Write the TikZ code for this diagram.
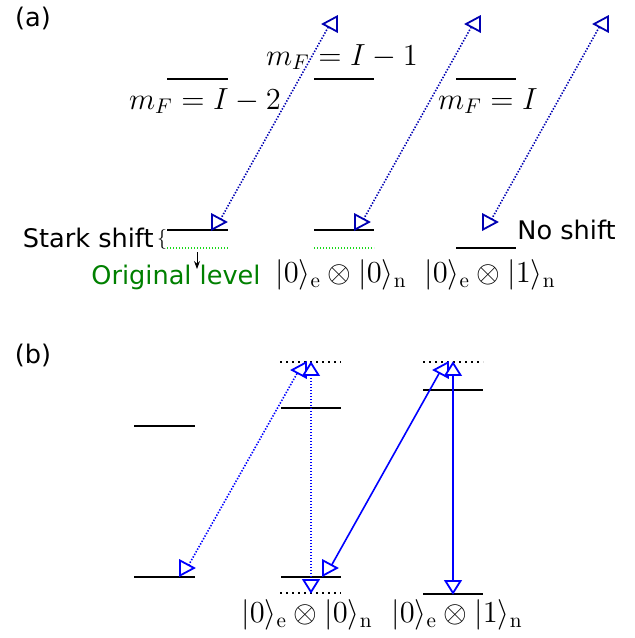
\documentclass[tikz,border=0pt]{standalone}
\usepackage{graphicx}
\usepackage{fontspec}
\setsansfont{DejaVu Sans}
\usetikzlibrary{arrows.meta}
\definecolor{ablue}{rgb}{0,0,0.7}
\definecolor{bblue}{rgb}{0,0,1}
\definecolor{lvgreen}{rgb}{0.1,0.85,0.1}
\definecolor{txgreen}{rgb}{0,0.5,0}
\newcommand{\mtx}[1]{\scalebox{1.06}{$#1$}}
\begin{document}
\begin{tikzpicture}[x=0.5pt,y=-0.5pt,
 level/.style={line width=1.1pt},
 dlevel/.style={line width=1pt, dash pattern=on 1pt off 2pt},
 glevel/.style={line width=0.9pt, lvgreen, dash pattern=on 0.7pt off 0.8pt},
 dtr/.style={line width=0.8pt, dash pattern=on 0.7pt off 0.8pt},
 str/.style={line width=0.8pt},
 head/.style={line width=0.9pt, fill=white},
 pics/hr/.style={code={\draw[head] (7,0) -- (-7,-7.5) -- (-7,7.5) -- cycle;}},
 pics/hl/.style={code={\draw[head] (-7,0) -- (7,-7.5) -- (7,7.5) -- cycle;}},
 pics/hu/.style={code={\draw[head] (0,-6) -- (-7.5,6) -- (7.5,6) -- cycle;}},
 pics/hd/.style={code={\draw[head] (0,6) -- (-7.5,-6) -- (7.5,-6) -- cycle;}},
 lab/.style={font=\sffamily\fontsize{12.8}{15}\selectfont, inner sep=0},
 mlab/.style={font=\fontsize{14.4}{17}\selectfont, inner sep=0},
]
\useasboundingbox (0,0) rectangle (635,638);

% ---------------- panel (a)
\node[lab] (la) at (33,18) {(a)};
% levels
\draw[level] (167,79) -- (228,79);
\draw[level] (314,79) -- (374,79);
\draw[level] (456,79) -- (516,79);
\draw[level] (167,230) -- (228,230);
\draw[level] (314,230) -- (374,230);
\draw[level] (456,248) -- (516,248);
\draw[glevel] (167,248) -- (228,248);
\draw[glevel] (314,248) -- (374,248);
% labels
\node[mlab] (m2) at (205,101) {\mtx{m_F=I-2}};
\node[mlab] (m1) at (342,57) {\mtx{m_F=I-1}};
\node[mlab] (m0) at (488,101) {\mtx{m_F=I}};
\node[lab, anchor=east] (stark) at (154,238) {Stark shift};
\node[inner sep=0, font=\fontsize{10}{12}\selectfont] (brace) at (162,239) {$\{$};
\node[lab, txgreen] (orig) at (176,277) {Original level};
\coordinate (oa1) at (197,252);
\coordinate (oa2) at (197,269);
\draw[-{Stealth[length=4pt,width=3pt]}, line width=0.5pt] (oa1) -- (oa2);
\node[lab, anchor=west] (noshift) at (517,230) {No shift};
\node[mlab] (ka1) at (341,275) {\mtx{|0\rangle_{\mathrm{e}}\otimes|0\rangle_{\mathrm{n}}}};
\node[mlab] (ka2) at (490,275) {\mtx{|0\rangle_{\mathrm{e}}\otimes|1\rangle_{\mathrm{n}}}};
% transitions
\coordinate (a1b) at (219,222); \coordinate (a1t) at (330,24);
\coordinate (a2b) at (362,222); \coordinate (a2t) at (473,24);
\coordinate (a3b) at (490,222); \coordinate (a3t) at (601,24);
\begin{scope}[ablue]
\draw[dtr] (a1b) -- (a1t);
\draw[dtr] (a2b) -- (a2t);
\draw[dtr] (a3b) -- (a3t);
\pic at (a1b) {hr}; \pic at (a1t) {hl};
\pic at (a2b) {hr}; \pic at (a2t) {hl};
\pic at (a3b) {hr}; \pic at (a3t) {hl};
\end{scope}

% ---------------- panel (b)
\node[lab] (lb) at (33,355) {(b)};
\draw[level] (134,426) -- (195,426);
\draw[level] (134,577) -- (195,577);
\draw[dlevel] (280,362) -- (341,362);
\draw[level] (281,408) -- (341,408);
\draw[level] (281,577) -- (341,577);
\draw[dlevel] (280,593) -- (341,593);
\draw[dlevel] (423,362) -- (483,362);
\draw[level] (423,390) -- (483,390);
\draw[level] (423,594) -- (483,594);
\node[mlab] (kb1) at (307,615) {\mtx{|0\rangle_{\mathrm{e}}\otimes|0\rangle_{\mathrm{n}}}};
\node[mlab] (kb2) at (457,615) {\mtx{|0\rangle_{\mathrm{e}}\otimes|1\rangle_{\mathrm{n}}}};
\coordinate (b1b) at (187,568); \coordinate (b1t) at (299,370);
\coordinate (b2t) at (311,369); \coordinate (b2b) at (311,586);
\coordinate (b3b) at (330,568); \coordinate (b3t) at (441,370);
\coordinate (b4t) at (453,369); \coordinate (b4b) at (453,587);
\begin{scope}[bblue]
\draw[dtr] (b1b) -- (b1t);
\draw[dtr] (b2t) -- (b2b);
\draw[str] (b3b) -- (b3t);
\draw[str] (b4t) -- (b4b);
\pic at (b1b) {hr}; \pic at (b1t) {hl};
\pic at (b2t) {hu}; \pic at (b2b) {hd};
\pic at (b3b) {hr}; \pic at (b3t) {hl};
\pic at (b4t) {hu}; \pic at (b4b) {hd};
\end{scope}
\end{tikzpicture}
\end{document}
